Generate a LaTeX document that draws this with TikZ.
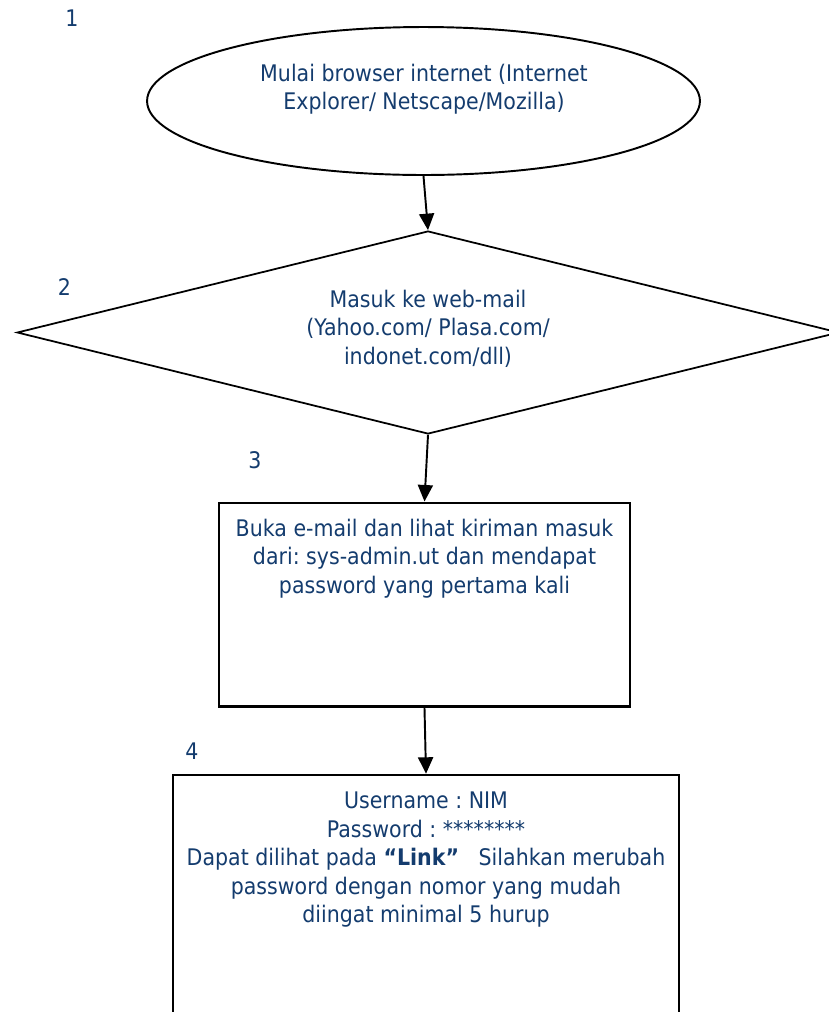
\documentclass[tikz,border=0pt]{standalone}
\usepackage{fontspec}
\setmainfont{DejaVu Sans}[FakeStretch=0.9]
\frenchspacing
\usetikzlibrary{shapes.geometric,arrows.meta,positioning}
\definecolor{txtblue}{RGB}{20,60,110}
\tikzset{>={Triangle[length=0.33cm,width=0.3cm]}}
\tikzset{
	flowtxt/.style={text=txtblue, font=\fontsize{13pt}{16.2pt}\selectfont, align=center, inner sep=0pt, anchor=north},
	numtxt/.style={text=txtblue, font=\fontsize{13pt}{16.2pt}\selectfont, inner sep=0pt},
	procbox/.style={draw, line width=1.4pt, inner sep=0pt},
}

\begin{document}
\begin{tikzpicture}[x=0.02cm,y=-0.02cm]
		\useasboundingbox (0,0) rectangle (829,1012);
		\node[draw, ellipse, line width=1.1pt, minimum width=11.06cm, minimum height=2.96cm, inner sep=0pt] (mulai) at (423.5,101) {};
		\node[draw, diamond, line width=1pt, minimum width=16.44cm, minimum height=4.06cm, inner sep=0pt] (webmail) at (428,332.5) {};
		\node[procbox, minimum width=8.22cm, minimum height=4.08cm] (bukamail) at (424.5,604.7) {};
		\node[procbox, minimum width=10.12cm, minimum height=5.2cm] (gantipass) at (426,905) {};
		\node[flowtxt] (mulaitxt) at (424,63.6) {Mulai browser internet (Internet\\Explorer/ Netscape/Mozilla)};
		\node[flowtxt] (webmailtxt) at (428,289.6) {Masuk ke web-mail\\(Yahoo.com/ Plasa.com/\\indonet.com/dll)};
		\node[flowtxt] (bukamailtxt) at (424.5,518.6) {Buka e-mail dan lihat kiriman masuk\\dari: sys-admin.ut dan mendapat\\password yang pertama kali};
		\node[flowtxt] (gantipasstxt) at (426,791.6) {Username : NIM\\Password : ********\\Dapat dilihat pada \textbf{“Link”}\ \ \ Silahkan merubah\\password dengan nomor yang mudah\\diingat minimal 5 hurup};
		\node[numtxt] (no1) at (72,18) {1};
		\node[numtxt] (no2) at (64.5,287) {2};
		\node[numtxt] (no3) at (255,460) {3};
		\node[numtxt] (no4) at (192,751) {4};
		\draw[->, line width=1.1pt] (mulai.south) -- (webmail.north);
		\draw[->, line width=1.1pt] (webmail.south) -- (bukamail.north);
		\draw[->, line width=1.1pt] (bukamail.south) -- (gantipass.north);
	\end{tikzpicture}
\end{document}
